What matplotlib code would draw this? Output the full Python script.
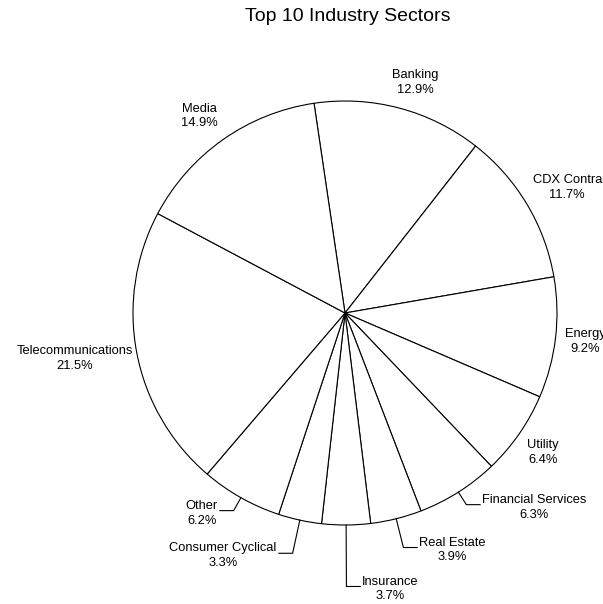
import matplotlib.pyplot as plt
import numpy as np

plt.rcParams['font.family'] = ['Liberation Sans', 'DejaVu Sans']

sectors = ['Banking', 'CDX Contra', 'Energy', 'Utility', 'Financial Services',
           'Real Estate', 'Insurance', 'Consumer Cyclical', 'Other',
           'Telecommunications', 'Media']
shares = [12.9, 11.7, 9.2, 6.4, 6.3, 3.9, 3.7, 3.3, 6.2, 21.5, 14.9]

# leader line length for the crowded small slices (0 = label sits next to the slice)
leader = [0, 0, 0, 0, 0.07, 0.14, 0.29, 0.16, 0.07, 0, 0]

PX = 212.0  # pixels per pie radius

fig = plt.figure(figsize=(6.03, 6.04), dpi=100)
ax = fig.add_axes([0, 0, 1, 1])
wedges, _ = ax.pie(shares, startangle=98.4, counterclock=False, radius=1,
                   wedgeprops=dict(facecolor='white', edgecolor='black', linewidth=0.8))
ax.set_xlim(-345 / PX, 258 / PX)
ax.set_ylim(-291 / PX, 313 / PX)
ax.set_aspect('auto')
ax.axis('off')

fig.text(0.576, 0.972, 'Top 10 Industry Sectors', ha='center', va='center', fontsize=14)

fig.canvas.draw()
renderer = fig.canvas.get_renderer()

for w, name, v, ll in zip(wedges, sectors, shares, leader):
    ang = np.deg2rad((w.theta1 + w.theta2) / 2)
    c, s = np.cos(ang), np.sin(ang)
    label = f'{name}\n{v:.1f}%'
    if ll == 0:
        t = ax.text(0, 0, label, ha='center', va='center', fontsize=9.3, linespacing=1.3)
        bb = t.get_window_extent(renderer)
        hw = bb.width / 2 / PX
        hh = bb.height / 2 / PX
        fx = np.clip(2.5 * c, -1, 1) * 0.85
        fy = np.clip(1.5 * s, -1, 1)
        t.set_position((1.06 * c + hw * fx, 1.06 * s + hh * fy))
    else:
        x1, y1 = (1 + ll) * c, (1 + ll) * s
        side = 1 if c >= 0 else -1
        x2 = x1 + side * 0.065
        ax.plot([c, x1, x2], [s, y1, y1], color='black', lw=0.8)
        ax.text(x2 + side * 0.01, y1 - 0.012, label, ha='left' if side > 0 else 'right',
                va='center', fontsize=9.3, linespacing=1.3, multialignment='center')

fig.savefig('out.png', dpi=100)
